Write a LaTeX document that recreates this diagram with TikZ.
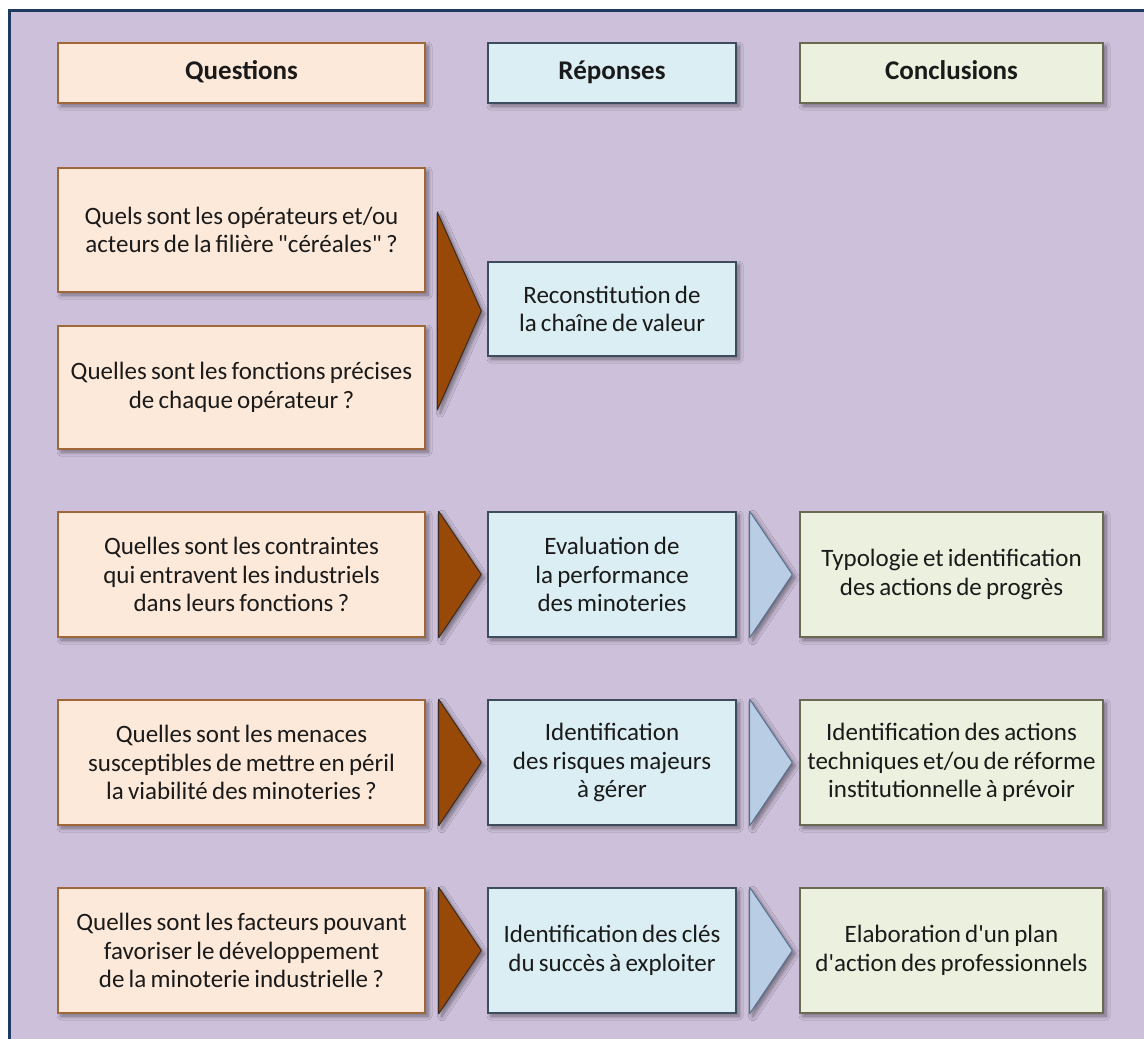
\documentclass[tikz,border=0pt]{standalone}
\usepackage{fontspec}
\setmainfont{Carlito}[Ligatures=TeXOff]
\usetikzlibrary{shadows.blur,calc}

\definecolor{bgLav}{HTML}{CCC0DA}
\definecolor{frameNavy}{HTML}{1F3A5F}
\definecolor{qFill}{HTML}{FDE9D9}
\definecolor{qLine}{HTML}{A0683A}
\definecolor{rFill}{HTML}{DAEEF3}
\definecolor{rLine}{HTML}{3E4C5E}
\definecolor{cFill}{HTML}{EBF1DE}
\definecolor{cLine}{HTML}{6A6A50}
\definecolor{chevBrown}{HTML}{984807}
\definecolor{chevBrownLine}{HTML}{3A2A22}
\definecolor{chevBlue}{HTML}{B9CDE5}
\definecolor{chevBlueLine}{HTML}{5A7091}
\definecolor{inkText}{HTML}{1A1A1A}

\tikzset{
  softshadow/.style={blur shadow={shadow xshift=3pt, shadow yshift=-3pt,
    shadow blur radius=4pt, shadow blur steps=8, shadow opacity=45}},
  box/.style={draw, line width=1.4pt, align=center, inner sep=0pt, text=inkText,
    font=\fontsize{25}{28.5}\selectfont,
    execute at begin node={\spaceskip=0.17em\relax}, softshadow},
  qbox/.style={box, fill=qFill, draw=qLine, minimum width=367pt},
  rbox/.style={box, fill=rFill, draw=rLine, minimum width=248pt},
  cbox/.style={box, fill=cFill, draw=cLine, minimum width=303pt},
  headfont/.style={font=\fontsize{27}{30}\selectfont\bfseries, minimum height=60pt,
    text height=17pt, text depth=4pt},
  rowbox/.style={minimum height=125pt},
  brownchev/.style={fill=chevBrown, draw=chevBrownLine, line width=1pt, line join=round, softshadow},
  bluechev/.style={fill=chevBlue, draw=chevBlueLine, line width=1pt, line join=round, softshadow},
}

\begin{document}
\begin{tikzpicture}[x=1pt, y=-1pt]
  % page and framed background
  \useasboundingbox (0,0) rectangle (1144,1039);
  \fill[white] (0,0) rectangle (1144,1039);
  \fill[bgLav] (9,10) rectangle (1144,1039);
  \draw[frameNavy, line width=3pt] (9.5,1039) -- (9.5,10.5) -- (1144,10.5);

  % column headers
  \node[qbox, headfont] (hq) at (241.5,73) {Questions};
  \node[rbox, headfont] (hr) at (612,73) {Réponses};
  \node[cbox, headfont] (hc) at (951.5,73) {Conclusions};

  % first block: two questions leading to one answer
  \node[qbox, minimum height=124pt] (q1) at (241.5,230)
    {Quels sont les opérateurs et/ou\\acteurs de la filière "céréales" ?};
  \node[qbox, minimum height=123pt] (q2) at (241.5,387.5)
    {Quelles sont les fonctions précises\\de chaque opérateur ?};
  \node[rbox, minimum height=94pt] (r1) at (612,309)
    {Reconstitution de\\la chaîne de valeur};

  % rows with question, answer and conclusion
  \node[qbox, rowbox] (q3) at (241.5,574.5)
    {Quelles sont les contraintes\\qui entravent les industriels\\dans leurs fonctions ?};
  \node[rbox, rowbox] (r2) at (612,574.5)
    {Evaluation de\\la performance\\des minoteries};
  \node[cbox, rowbox] (c2) at (951.5,574.5)
    {Typologie et identification\\des actions de progrès};

  \node[qbox, rowbox] (q4) at (241.5,762.5)
    {Quelles sont les menaces\\susceptibles de mettre en péril\\la viabilité des minoteries ?};
  \node[rbox, rowbox] (r3) at (612,762.5)
    {Identification\\des risques majeurs\\à gérer};
  \node[cbox, rowbox] (c3) at (951.5,762.5)
    {Identification des actions\\techniques et/ou de réforme\\institutionnelle à prévoir};

  \node[qbox, rowbox] (q5) at (241.5,950.5)
    {Quelles sont les facteurs pouvant\\favoriser le développement\\de la minoterie industrielle ?};
  \node[rbox, rowbox] (r4) at (612,950.5)
    {Identification des clés\\du succès à exploiter};
  \node[cbox, rowbox] (c4) at (951.5,950.5)
    {Elaboration d'un plan\\d'action des professionnels};

  % chevrons between columns
  \draw[brownchev] ($(r1.west)+(-50,-97)$) -- ($(r1.west)+(-50,101)$)
    -- ($(r1.west)+(-6,2)$) -- cycle;
  \foreach \q/\r/\c in {q3/r2/c2, q4/r3/c3, q5/r4/c4}{
    \draw[brownchev] ($(\q.north east)+(13,0)$) -- ($(\q.south east)+(13,0)$)
      -- ($(\r.west)+(-6,0)$) -- cycle;
    \draw[bluechev] ($(\r.north east)+(13,0)$) -- ($(\r.south east)+(13,0)$)
      -- ($(\c.west)+(-7,0)$) -- cycle;
  }
\end{tikzpicture}
\end{document}
